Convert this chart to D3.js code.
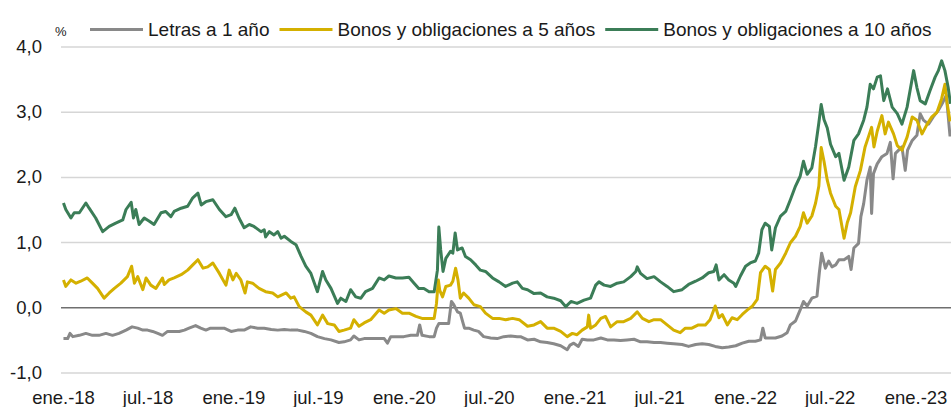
<!DOCTYPE html>
<html>
<head>
<meta charset="utf-8">
<script src="https://cdn.jsdelivr.net/npm/d3@7"></script>
<style>
  body { margin: 0; background: #fff; }
  svg { display: block; }
  text { font-family: "Liberation Sans", Arial, sans-serif; fill: #1a1a1a; }
</style>
</head>
<body>
<div id="chart"></div>
<script>
// series names (legend order)
var seriesNames = ["Letras a 1 año", "Bonos y obligaciones a 5 años", "Bonos y obligaciones a 10 años"];
var seriesColors = ["#898989", "#d4b000", "#3b7d57"];

// x axis ticks
var xTickDates = ["2018-01-01","2018-07-01","2019-01-01","2019-07-01","2020-01-01","2020-07-01",
  "2021-01-01","2021-07-01","2022-01-01","2022-07-01","2023-01-01"];
var xTickLabels = ["ene.-18","jul.-18","ene.-19","jul.-19","ene.-20","jul.-20",
  "ene.-21","jul.-21","ene.-22","jul.-22","ene.-23"];
var yTicks = [-1, 0, 1, 2, 3, 4];
var yTickLabels = ["-1,0", "0,0", "1,0", "2,0", "3,0", "4,0"];

// Letras a 1 año (%)
var letras = [
  ["2018-01-02",-0.48],["2018-01-11",-0.48],["2018-01-16",-0.40],["2018-01-22",-0.45],["2018-02-05",-0.43],
  ["2018-02-19",-0.40],["2018-03-05",-0.43],["2018-03-19",-0.43],["2018-04-03",-0.40],["2018-04-17",-0.43],
  ["2018-05-01",-0.40],["2018-05-16",-0.35],["2018-05-29",-0.30],["2018-06-10",-0.32],["2018-06-21",-0.35],
  ["2018-07-01",-0.35],["2018-07-12",-0.37],["2018-07-23",-0.40],["2018-08-02",-0.43],["2018-08-13",-0.37],
  ["2018-08-24",-0.37],["2018-09-07",-0.37],["2018-09-18",-0.35],["2018-09-28",-0.32],["2018-10-12",-0.28],
  ["2018-10-23",-0.32],["2018-11-03",-0.35],["2018-11-13",-0.32],["2018-11-28",-0.32],["2018-12-12",-0.32],
  ["2018-12-27",-0.37],["2019-01-10",-0.35],["2019-01-24",-0.35],["2019-02-07",-0.30],["2019-02-22",-0.32],
  ["2019-03-08",-0.32],["2019-03-23",-0.34],["2019-04-06",-0.35],["2019-04-20",-0.34],["2019-05-04",-0.35],
  ["2019-05-19",-0.35],["2019-06-02",-0.37],["2019-06-16",-0.40],["2019-06-30",-0.45],["2019-07-15",-0.48],
  ["2019-07-29",-0.50],["2019-08-15",-0.54],["2019-08-26",-0.53],["2019-09-09",-0.50],["2019-09-16",-0.44],
  ["2019-09-27",-0.50],["2019-10-08",-0.48],["2019-10-22",-0.48],["2019-11-09",-0.48],["2019-11-20",-0.48],
  ["2019-11-27",-0.55],["2019-12-04",-0.45],["2019-12-18",-0.45],["2020-01-01",-0.45],["2020-01-16",-0.43],
  ["2020-01-30",-0.43],["2020-02-04",-0.27],["2020-02-09",-0.43],["2020-02-24",-0.45],["2020-03-06",-0.45],
  ["2020-03-11",-0.32],["2020-03-16",-0.25],["2020-03-27",-0.25],["2020-04-06",-0.25],["2020-04-12",0.09],
  ["2020-04-17",0.04],["2020-04-25",-0.07],["2020-05-01",-0.09],["2020-05-06",-0.22],["2020-05-10",-0.32],
  ["2020-05-19",-0.32],["2020-05-30",-0.35],["2020-06-09",-0.37],["2020-06-20",-0.45],["2020-07-05",-0.47],
  ["2020-07-19",-0.48],["2020-08-02",-0.45],["2020-08-17",-0.44],["2020-08-31",-0.45],["2020-09-07",-0.45],
  ["2020-09-22",-0.50],["2020-10-06",-0.49],["2020-10-20",-0.53],["2020-11-03",-0.54],["2020-11-17",-0.56],
  ["2020-12-02",-0.59],["2020-12-16",-0.65],["2020-12-22",-0.58],["2020-12-30",-0.55],["2021-01-09",-0.60],
  ["2021-01-17",-0.49],["2021-01-28",-0.50],["2021-02-11",-0.50],["2021-02-26",-0.47],["2021-03-12",-0.50],
  ["2021-03-26",-0.50],["2021-04-09",-0.51],["2021-04-23",-0.50],["2021-05-08",-0.49],["2021-05-22",-0.53],
  ["2021-06-05",-0.53],["2021-06-20",-0.54],["2021-07-04",-0.54],["2021-07-18",-0.55],["2021-08-01",-0.56],
  ["2021-08-19",-0.57],["2021-09-02",-0.60],["2021-09-17",-0.57],["2021-10-01",-0.56],["2021-10-15",-0.57],
  ["2021-10-29",-0.60],["2021-11-13",-0.62],["2021-11-27",-0.61],["2021-12-12",-0.59],["2021-12-26",-0.55],
  ["2022-01-09",-0.52],["2022-01-23",-0.52],["2022-02-03",-0.50],["2022-02-08",-0.32],["2022-02-13",-0.47],
  ["2022-02-24",-0.47],["2022-03-07",-0.47],["2022-03-21",-0.44],["2022-04-01",-0.39],["2022-04-08",-0.27],
  ["2022-04-19",-0.21],["2022-04-29",-0.04],["2022-05-06",0.09],["2022-05-14",0.02],["2022-05-24",0.14],
  ["2022-06-04",0.17],["2022-06-09",0.53],["2022-06-14",0.83],["2022-06-22",0.60],["2022-06-29",0.71],
  ["2022-07-06",0.62],["2022-07-14",0.65],["2022-07-21",0.73],["2022-08-01",0.73],["2022-08-11",0.78],
  ["2022-08-16",0.58],["2022-08-22",0.91],["2022-09-01",0.98],["2022-09-06",1.39],["2022-09-12",1.59],
  ["2022-09-19",1.95],["2022-09-26",2.15],["2022-09-29",1.44],["2022-10-03",2.05],["2022-10-11",2.20],
  ["2022-10-21",2.31],["2022-11-01",2.36],["2022-11-08",2.53],["2022-11-14",1.97],["2022-11-19",2.36],
  ["2022-11-26",2.41],["2022-12-03",2.46],["2022-12-10",2.10],["2022-12-15",2.41],["2022-12-25",2.56],
  ["2023-01-04",2.64],["2023-01-11",2.97],["2023-01-18",2.87],["2023-01-29",2.81],["2023-02-08",2.92],
  ["2023-02-19",3.02],["2023-03-01",3.15],["2023-03-08",3.25],["2023-03-16",2.62]
];

// Bonos y obligaciones a 5 años
var bonos5 = [
  ["2018-01-02",0.42],["2018-01-07",0.32],["2018-01-18",0.42],["2018-01-29",0.37],["2018-02-08",0.40],
  ["2018-02-22",0.45],["2018-03-05",0.37],["2018-03-16",0.29],["2018-03-30",0.14],["2018-04-10",0.22],
  ["2018-04-21",0.29],["2018-05-05",0.37],["2018-05-19",0.47],["2018-05-28",0.63],["2018-06-03",0.37],
  ["2018-06-10",0.47],["2018-06-21",0.27],["2018-06-28",0.45],["2018-07-08",0.34],["2018-07-19",0.29],
  ["2018-08-02",0.45],["2018-08-06",0.35],["2018-08-16",0.42],["2018-08-27",0.45],["2018-09-11",0.50],
  ["2018-09-25",0.57],["2018-10-06",0.65],["2018-10-17",0.73],["2018-10-28",0.60],["2018-11-07",0.62],
  ["2018-11-18",0.68],["2018-12-02",0.52],["2018-12-16",0.34],["2018-12-23",0.57],["2018-12-31",0.42],
  ["2019-01-07",0.52],["2019-01-17",0.42],["2019-01-26",0.22],["2019-01-31",0.39],["2019-02-11",0.37],
  ["2019-02-25",0.29],["2019-03-11",0.24],["2019-03-26",0.22],["2019-04-06",0.16],["2019-04-24",0.22],
  ["2019-05-04",0.14],["2019-05-11",0.16],["2019-05-22",0.01],["2019-06-05",-0.07],["2019-06-16",-0.12],
  ["2019-06-30",-0.27],["2019-07-11",-0.12],["2019-07-22",-0.25],["2019-08-05",-0.27],["2019-08-15",-0.37],
  ["2019-08-26",-0.35],["2019-09-09",-0.32],["2019-09-16",-0.19],["2019-09-27",-0.29],["2019-10-08",-0.24],
  ["2019-10-22",-0.19],["2019-11-09",-0.04],["2019-11-20",-0.09],["2019-11-30",-0.04],["2019-12-15",-0.02],
  ["2019-12-29",-0.09],["2020-01-12",-0.09],["2020-01-27",-0.14],["2020-02-09",-0.17],["2020-02-27",-0.17],
  ["2020-03-06",-0.17],["2020-03-11",0.06],["2020-03-15",0.42],["2020-03-18",0.26],["2020-03-24",0.16],
  ["2020-03-31",0.32],["2020-04-10",0.34],["2020-04-15",0.40],["2020-04-21",0.60],["2020-04-26",0.42],
  ["2020-05-01",0.14],["2020-05-08",0.22],["2020-05-19",0.14],["2020-05-30",0.04],["2020-06-13",0.01],
  ["2020-06-24",-0.09],["2020-07-09",-0.17],["2020-07-23",-0.17],["2020-08-06",-0.19],["2020-08-21",-0.17],
  ["2020-09-04",-0.19],["2020-09-22",-0.29],["2020-10-06",-0.27],["2020-10-20",-0.22],["2020-11-03",-0.32],
  ["2020-11-17",-0.32],["2020-12-02",-0.37],["2020-12-16",-0.45],["2020-12-27",-0.40],["2021-01-06",-0.42],
  ["2021-01-17",-0.35],["2021-01-28",-0.30],["2021-01-31",-0.12],["2021-02-04",-0.32],["2021-02-15",-0.27],
  ["2021-02-26",-0.17],["2021-03-08",-0.14],["2021-03-19",-0.30],["2021-04-02",-0.22],["2021-04-16",-0.22],
  ["2021-05-01",-0.17],["2021-05-15",-0.07],["2021-05-26",-0.17],["2021-06-09",-0.22],["2021-06-20",-0.19],
  ["2021-07-04",-0.19],["2021-07-18",-0.27],["2021-08-01",-0.35],["2021-08-15",-0.39],["2021-08-26",-0.32],
  ["2021-09-09",-0.32],["2021-09-23",-0.27],["2021-10-08",-0.27],["2021-10-18",-0.19],["2021-10-29",0.02],
  ["2021-11-06",-0.16],["2021-11-13",-0.11],["2021-11-24",-0.27],["2021-12-04",-0.16],["2021-12-15",-0.19],
  ["2021-12-26",-0.11],["2022-01-06",-0.04],["2022-01-17",0.02],["2022-01-27",0.12],["2022-02-03",0.53],
  ["2022-02-13",0.63],["2022-02-22",0.58],["2022-03-01",0.25],["2022-03-07",0.58],["2022-03-18",0.68],
  ["2022-03-29",0.83],["2022-04-08",0.99],["2022-04-19",1.09],["2022-04-29",1.24],["2022-05-06",1.45],
  ["2022-05-14",1.29],["2022-05-24",1.40],["2022-06-01",1.60],["2022-06-08",1.86],["2022-06-13",2.45],
  ["2022-06-19",2.24],["2022-06-26",1.95],["2022-07-03",1.75],["2022-07-14",1.55],["2022-07-21",1.50],
  ["2022-08-01",1.06],["2022-08-08",1.30],["2022-08-15",1.45],["2022-08-25",1.85],["2022-09-05",2.10],
  ["2022-09-15",2.46],["2022-09-22",2.61],["2022-09-29",2.76],["2022-10-04",2.46],["2022-10-11",2.70],
  ["2022-10-21",2.94],["2022-10-28",2.66],["2022-11-04",2.84],["2022-11-15",2.66],["2022-11-23",2.48],
  ["2022-12-03",2.41],["2022-12-14",2.61],["2022-12-25",2.92],["2023-01-04",2.87],["2023-01-15",2.66],
  ["2023-01-26",2.81],["2023-02-05",2.92],["2023-02-16",2.99],["2023-02-26",3.20],["2023-03-05",3.42],
  ["2023-03-10",3.12],["2023-03-16",2.85]
];

// Bonos y obligaciones a 10 años
var bonos10 = [
  ["2018-01-02",1.60],["2018-01-07",1.50],["2018-01-18",1.37],["2018-01-25",1.45],["2018-02-05",1.45],
  ["2018-02-19",1.60],["2018-02-26",1.52],["2018-03-12",1.37],["2018-03-27",1.16],["2018-04-10",1.24],
  ["2018-04-24",1.29],["2018-05-09",1.34],["2018-05-16",1.50],["2018-05-27",1.61],["2018-06-01",1.37],
  ["2018-06-06",1.50],["2018-06-13",1.27],["2018-06-24",1.37],["2018-07-05",1.32],["2018-07-15",1.27],
  ["2018-07-30",1.45],["2018-08-09",1.47],["2018-08-20",1.39],["2018-08-27",1.47],["2018-09-11",1.52],
  ["2018-09-25",1.55],["2018-10-06",1.68],["2018-10-17",1.75],["2018-10-24",1.57],["2018-11-03",1.62],
  ["2018-11-18",1.65],["2018-12-02",1.50],["2018-12-16",1.39],["2018-12-27",1.42],["2019-01-04",1.52],
  ["2019-01-13",1.37],["2019-01-24",1.22],["2019-02-04",1.27],["2019-02-14",1.24],["2019-03-01",1.16],
  ["2019-03-08",1.19],["2019-03-11",1.08],["2019-03-19",1.16],["2019-03-29",1.11],["2019-04-06",1.16],
  ["2019-04-13",1.06],["2019-04-20",1.09],["2019-05-04",1.01],["2019-05-15",0.96],["2019-05-26",0.78],
  ["2019-06-05",0.63],["2019-06-16",0.52],["2019-06-30",0.24],["2019-07-11",0.55],["2019-07-18",0.42],
  ["2019-07-29",0.29],["2019-08-12",0.06],["2019-08-19",0.14],["2019-08-30",0.09],["2019-09-09",0.27],
  ["2019-09-20",0.16],["2019-10-01",0.14],["2019-10-11",0.24],["2019-10-26",0.29],["2019-11-09",0.45],
  ["2019-11-20",0.42],["2019-11-30",0.48],["2019-12-15",0.45],["2019-12-29",0.45],["2020-01-12",0.46],
  ["2020-01-23",0.37],["2020-02-02",0.29],["2020-02-13",0.29],["2020-02-24",0.24],["2020-03-06",0.24],
  ["2020-03-13",0.57],["2020-03-16",1.23],["2020-03-20",0.88],["2020-03-25",0.55],["2020-03-31",0.75],
  ["2020-04-10",0.86],["2020-04-15",0.83],["2020-04-20",1.14],["2020-04-25",0.88],["2020-05-05",0.91],
  ["2020-05-12",0.78],["2020-05-23",0.73],["2020-06-03",0.65],["2020-06-13",0.57],["2020-06-24",0.55],
  ["2020-07-09",0.45],["2020-07-23",0.39],["2020-08-06",0.32],["2020-08-21",0.37],["2020-08-31",0.39],
  ["2020-09-11",0.29],["2020-09-22",0.27],["2020-10-06",0.21],["2020-10-20",0.22],["2020-11-03",0.16],
  ["2020-11-17",0.14],["2020-12-02",0.10],["2020-12-13",0.01],["2020-12-24",0.09],["2021-01-06",0.06],
  ["2021-01-21",0.11],["2021-02-04",0.14],["2021-02-15",0.34],["2021-02-22",0.39],["2021-03-05",0.34],
  ["2021-03-19",0.32],["2021-04-02",0.37],["2021-04-16",0.39],["2021-05-01",0.47],["2021-05-12",0.55],
  ["2021-05-15",0.62],["2021-05-22",0.52],["2021-06-05",0.44],["2021-06-20",0.47],["2021-07-04",0.39],
  ["2021-07-18",0.32],["2021-08-01",0.24],["2021-08-19",0.27],["2021-09-02",0.35],["2021-09-17",0.40],
  ["2021-10-01",0.45],["2021-10-15",0.53],["2021-10-26",0.55],["2021-10-31",0.65],["2021-11-06",0.42],
  ["2021-11-17",0.50],["2021-11-27",0.42],["2021-12-08",0.37],["2021-12-12",0.32],["2021-12-22",0.48],
  ["2022-01-02",0.63],["2022-01-12",0.68],["2022-01-23",0.71],["2022-01-30",0.83],["2022-02-06",1.19],
  ["2022-02-13",1.29],["2022-02-22",1.24],["2022-02-27",0.88],["2022-03-07",1.22],["2022-03-18",1.40],
  ["2022-03-29",1.47],["2022-04-08",1.65],["2022-04-19",1.86],["2022-04-29",2.01],["2022-05-06",2.24],
  ["2022-05-14",2.04],["2022-05-24",2.14],["2022-06-01",2.47],["2022-06-08",2.83],["2022-06-13",3.11],
  ["2022-06-19",2.88],["2022-06-26",2.75],["2022-07-03",2.50],["2022-07-14",2.31],["2022-07-21",2.36],
  ["2022-08-01",1.95],["2022-08-11",2.15],["2022-08-22",2.56],["2022-09-01",2.66],["2022-09-12",2.87],
  ["2022-09-19",3.07],["2022-09-26",3.42],["2022-10-03",3.35],["2022-10-11",3.53],["2022-10-18",3.55],
  ["2022-10-25",3.17],["2022-11-02",3.35],["2022-11-12",3.07],["2022-11-23",2.97],["2022-12-03",2.81],
  ["2022-12-14",3.07],["2022-12-28",3.63],["2023-01-04",3.37],["2023-01-11",3.17],["2023-01-22",3.12],
  ["2023-02-01",3.32],["2023-02-12",3.53],["2023-02-19",3.63],["2023-02-26",3.78],["2023-03-05",3.63],
  ["2023-03-12",3.37],["2023-03-17",3.12]
];

var width = 951, height = 407;
var plotLeft = 61, plotRight = 951;
var parseDate = d3.utcParse("%Y-%m-%d");

var svg = d3.select("#chart").append("svg")
  .attr("width", width)
  .attr("height", height);

// scales
var x = d3.scaleUtc()
  .domain([parseDate("2018-01-01"), parseDate("2023-01-01")])
  .range([63, 915.5]);
var y = d3.scaleLinear()
  .domain([-1, 4])
  .range([372.5, 46.5]);

// y axis + gridlines
var yAxis = svg.append("g")
  .attr("transform", "translate(" + plotLeft + ",0)")
  .call(d3.axisLeft(y)
    .tickValues(yTicks)
    .tickSize(-(plotRight - plotLeft))
    .tickPadding(19)
    .tickFormat(function(d, i) { return yTickLabels[i]; }));
yAxis.select(".domain").remove();
yAxis.selectAll(".tick line")
  .attr("stroke", function(d) { return d === 0 ? "#6f6f6f" : "#d6d6d6"; })
  .attr("stroke-width", 1.5);
yAxis.selectAll(".tick text")
  .attr("fill", "#1a1a1a")
  .style("font-size", "18.5px")
  .style("font-family", "'Liberation Sans', Arial, sans-serif");

// x axis labels
var xAxis = svg.append("g")
  .attr("transform", "translate(0,380)")
  .call(d3.axisBottom(x)
    .tickValues(xTickDates.map(parseDate))
    .tickSize(0)
    .tickPadding(10.4)
    .tickFormat(function(d, i) { return xTickLabels[i]; }));
xAxis.select(".domain").remove();
xAxis.selectAll(".tick text")
  .attr("fill", "#1a1a1a")
  .style("font-size", "18.5px")
  .style("font-family", "'Liberation Sans', Arial, sans-serif");

// clip lines to plot area
svg.append("clipPath").attr("id", "clip")
  .append("rect")
  .attr("x", plotLeft).attr("y", 0)
  .attr("width", plotRight - plotLeft).attr("height", height);

var line = d3.line()
  .x(function(d) { return x(parseDate(d[0])); })
  .y(function(d) { return y(d[1]); });

var allSeries = [letras, bonos5, bonos10];
svg.append("g")
  .attr("clip-path", "url(#clip)")
  .selectAll("path")
  .data(allSeries)
  .enter().append("path")
    .attr("d", line)
    .attr("fill", "none")
    .attr("stroke", function(d, i) { return seriesColors[i]; })
    .attr("stroke-width", 3)
    .attr("stroke-linejoin", "round");

// unit label
svg.append("text")
  .attr("x", 55).attr("y", 36)
  .style("font-size", "13px")
  .text("%");

// legend
var legend = svg.append("g");
var lx = 90;
seriesNames.forEach(function(name, i) {
  legend.append("line")
    .attr("x1", lx).attr("x2", lx + 53)
    .attr("y1", 29.5).attr("y2", 29.5)
    .attr("stroke", seriesColors[i])
    .attr("stroke-width", 3);
  var t = legend.append("text")
    .attr("x", lx + 58).attr("y", 35.5)
    .style("font-size", "19px")
    .text(name);
  lx = lx + 58 + t.node().getComputedTextLength() + 10;
});
</script>
</body>
</html>
